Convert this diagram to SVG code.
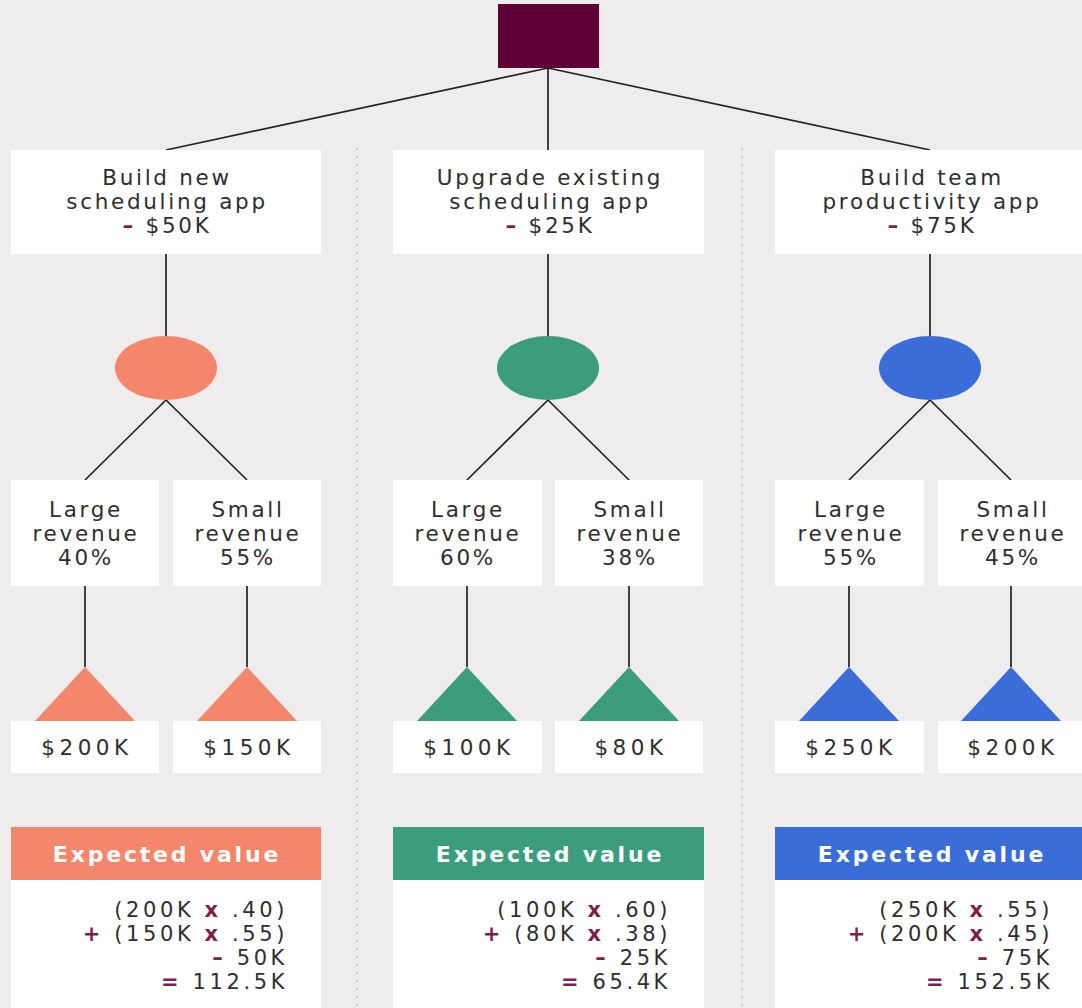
<svg xmlns="http://www.w3.org/2000/svg" width="1082" height="1008" viewBox="0 0 1082 1008">
  <style>
    .bg{fill:#eeecec}
    .box{fill:#ffffff}
    .t{font-family:"DejaVu Sans",sans-serif;font-size:21.5px;fill:#2e2e2e;letter-spacing:2.7px;text-anchor:middle}
    .v{font-family:"DejaVu Sans",sans-serif;font-size:21.5px;fill:#2e2e2e;letter-spacing:4.5px;text-anchor:middle}
    .f{font-family:"DejaVu Sans",sans-serif;font-size:21px;fill:#2e2e2e;letter-spacing:3.6px;text-anchor:end}
    .h{font-family:"DejaVu Sans",sans-serif;font-size:22px;font-weight:bold;fill:#ffffff;letter-spacing:2.8px;text-anchor:middle}
    .acc{fill:#7d1f4f;font-weight:bold}
    .ln{stroke:#222222;stroke-width:1.7;fill:none}
    .sep{stroke:#bdbaba;stroke-width:1.5;stroke-dasharray:2 6}
    .orange{fill:#f3866b}
    .green{fill:#3b9d7c}
    .blue{fill:#3a6dd7}
  </style>

  <rect class="bg" x="0" y="0" width="1082" height="1008"/>

  <!-- dotted column separators -->
  <g id="separators">
    <line class="sep" x1="357" y1="148" x2="357" y2="1008"/>
    <line class="sep" x1="742" y1="148" x2="742" y2="1008"/>
  </g>

  <!-- connectors -->
  <g id="connectors">
    <line class="ln" x1="548" y1="68" x2="166" y2="150"/>
    <line class="ln" x1="548" y1="68" x2="548" y2="150"/>
    <line class="ln" x1="548" y1="68" x2="930" y2="150"/>

    <line class="ln" x1="166" y1="254" x2="166" y2="336"/>
    <line class="ln" x1="166" y1="400" x2="85" y2="480"/>
    <line class="ln" x1="166" y1="400" x2="247" y2="480"/>
    <line class="ln" x1="85" y1="586" x2="85" y2="667"/>
    <line class="ln" x1="247" y1="586" x2="247" y2="667"/>

    <line class="ln" x1="548" y1="254" x2="548" y2="336"/>
    <line class="ln" x1="548" y1="400" x2="467" y2="480"/>
    <line class="ln" x1="548" y1="400" x2="629" y2="480"/>
    <line class="ln" x1="467" y1="586" x2="467" y2="667"/>
    <line class="ln" x1="629" y1="586" x2="629" y2="667"/>

    <line class="ln" x1="930" y1="254" x2="930" y2="336"/>
    <line class="ln" x1="930" y1="400" x2="849" y2="480"/>
    <line class="ln" x1="930" y1="400" x2="1011" y2="480"/>
    <line class="ln" x1="849" y1="586" x2="849" y2="667"/>
    <line class="ln" x1="1011" y1="586" x2="1011" y2="667"/>
  </g>

  <!-- root decision -->
  <g id="root">
    <rect x="498" y="4" width="101" height="64" fill="#5e0036"/>
  </g>

  <!-- ===== option 1 ===== -->
  <g id="option-new-app">
    <rect class="box" x="11" y="150" width="310" height="104"/>
    <text class="t" x="167" y="185">Build new</text>
    <text class="t" x="167" y="209">scheduling app</text>
    <text class="t" x="167" y="233"><tspan class="acc">–</tspan> $50K</text>
  </g>
  <g id="chance-new-app"><ellipse class="orange" cx="166" cy="368" rx="51" ry="32"/></g>
  <g id="outcome-new-large">
    <rect class="box" x="11" y="480" width="148" height="106"/>
    <text class="t" x="86" y="517">Large</text>
    <text class="t" x="86" y="541">revenue</text>
    <text class="t" x="86" y="565">40%</text>
  </g>
  <g id="outcome-new-small">
    <rect class="box" x="173" y="480" width="148" height="106"/>
    <text class="t" x="248" y="517">Small</text>
    <text class="t" x="248" y="541">revenue</text>
    <text class="t" x="248" y="565">55%</text>
  </g>
  <g id="end-new-large">
    <polygon class="orange" points="85,667 135,721 35,721"/>
    <rect class="box" x="11" y="721" width="148" height="52"/>
    <text class="v" x="87" y="755">$200K</text>
  </g>
  <g id="end-new-small">
    <polygon class="orange" points="247,667 297,721 197,721"/>
    <rect class="box" x="173" y="721" width="148" height="52"/>
    <text class="v" x="249" y="755">$150K</text>
  </g>
  <g id="ev-new-app">
    <rect class="orange" x="11" y="827" width="310" height="53"/>
    <text class="h" x="167" y="862">Expected value</text>
    <rect class="box" x="11" y="880" width="310" height="128"/>
    <text class="f" x="288" y="917">(200K <tspan class="acc">x</tspan> .40)</text>
    <text class="f" x="288" y="941"><tspan class="acc">+</tspan> (150K <tspan class="acc">x</tspan> .55)</text>
    <text class="f" x="288" y="965"><tspan class="acc">–</tspan> 50K</text>
    <text class="f" x="288" y="989"><tspan class="acc">=</tspan> 112.5K</text>
  </g>

  <!-- ===== option 2 ===== -->
  <g id="option-upgrade">
    <rect class="box" x="393" y="150" width="311" height="104"/>
    <text class="t" x="550" y="185">Upgrade existing</text>
    <text class="t" x="550" y="209">scheduling app</text>
    <text class="t" x="550" y="233"><tspan class="acc">–</tspan> $25K</text>
  </g>
  <g id="chance-upgrade"><ellipse class="green" cx="548" cy="368" rx="51" ry="32"/></g>
  <g id="outcome-upgrade-large">
    <rect class="box" x="393" y="480" width="149" height="106"/>
    <text class="t" x="468" y="517">Large</text>
    <text class="t" x="468" y="541">revenue</text>
    <text class="t" x="468" y="565">60%</text>
  </g>
  <g id="outcome-upgrade-small">
    <rect class="box" x="555" y="480" width="148" height="106"/>
    <text class="t" x="630" y="517">Small</text>
    <text class="t" x="630" y="541">revenue</text>
    <text class="t" x="630" y="565">38%</text>
  </g>
  <g id="end-upgrade-large">
    <polygon class="green" points="467,667 517,721 417,721"/>
    <rect class="box" x="393" y="721" width="149" height="52"/>
    <text class="v" x="469" y="755">$100K</text>
  </g>
  <g id="end-upgrade-small">
    <polygon class="green" points="629,667 679,721 579,721"/>
    <rect class="box" x="555" y="721" width="148" height="52"/>
    <text class="v" x="631" y="755">$80K</text>
  </g>
  <g id="ev-upgrade">
    <rect class="green" x="393" y="827" width="311" height="53"/>
    <text class="h" x="550" y="862">Expected value</text>
    <rect class="box" x="393" y="880" width="311" height="128"/>
    <text class="f" x="671" y="917">(100K <tspan class="acc">x</tspan> .60)</text>
    <text class="f" x="671" y="941"><tspan class="acc">+</tspan> (80K <tspan class="acc">x</tspan> .38)</text>
    <text class="f" x="671" y="965"><tspan class="acc">–</tspan> 25K</text>
    <text class="f" x="671" y="989"><tspan class="acc">=</tspan> 65.4K</text>
  </g>

  <!-- ===== option 3 ===== -->
  <g id="option-team-app">
    <rect class="box" x="775" y="150" width="311" height="104"/>
    <text class="t" x="932" y="185">Build team</text>
    <text class="t" x="932" y="209">productivity app</text>
    <text class="t" x="932" y="233"><tspan class="acc">–</tspan> $75K</text>
  </g>
  <g id="chance-team-app"><ellipse class="blue" cx="930" cy="368" rx="51" ry="32"/></g>
  <g id="outcome-team-large">
    <rect class="box" x="775" y="480" width="149" height="106"/>
    <text class="t" x="851" y="517">Large</text>
    <text class="t" x="851" y="541">revenue</text>
    <text class="t" x="851" y="565">55%</text>
  </g>
  <g id="outcome-team-small">
    <rect class="box" x="938" y="480" width="148" height="106"/>
    <text class="t" x="1013" y="517">Small</text>
    <text class="t" x="1013" y="541">revenue</text>
    <text class="t" x="1013" y="565">45%</text>
  </g>
  <g id="end-team-large">
    <polygon class="blue" points="849,667 899,721 799,721"/>
    <rect class="box" x="775" y="721" width="149" height="52"/>
    <text class="v" x="851" y="755">$250K</text>
  </g>
  <g id="end-team-small">
    <polygon class="blue" points="1011,667 1061,721 961,721"/>
    <rect class="box" x="938" y="721" width="148" height="52"/>
    <text class="v" x="1013" y="755">$200K</text>
  </g>
  <g id="ev-team-app">
    <rect class="blue" x="775" y="827" width="311" height="53"/>
    <text class="h" x="932" y="862">Expected value</text>
    <rect class="box" x="775" y="880" width="311" height="128"/>
    <text class="f" x="1053" y="917">(250K <tspan class="acc">x</tspan> .55)</text>
    <text class="f" x="1053" y="941"><tspan class="acc">+</tspan> (200K <tspan class="acc">x</tspan> .45)</text>
    <text class="f" x="1053" y="965"><tspan class="acc">–</tspan> 75K</text>
    <text class="f" x="1053" y="989"><tspan class="acc">=</tspan> 152.5K</text>
  </g>
</svg>
